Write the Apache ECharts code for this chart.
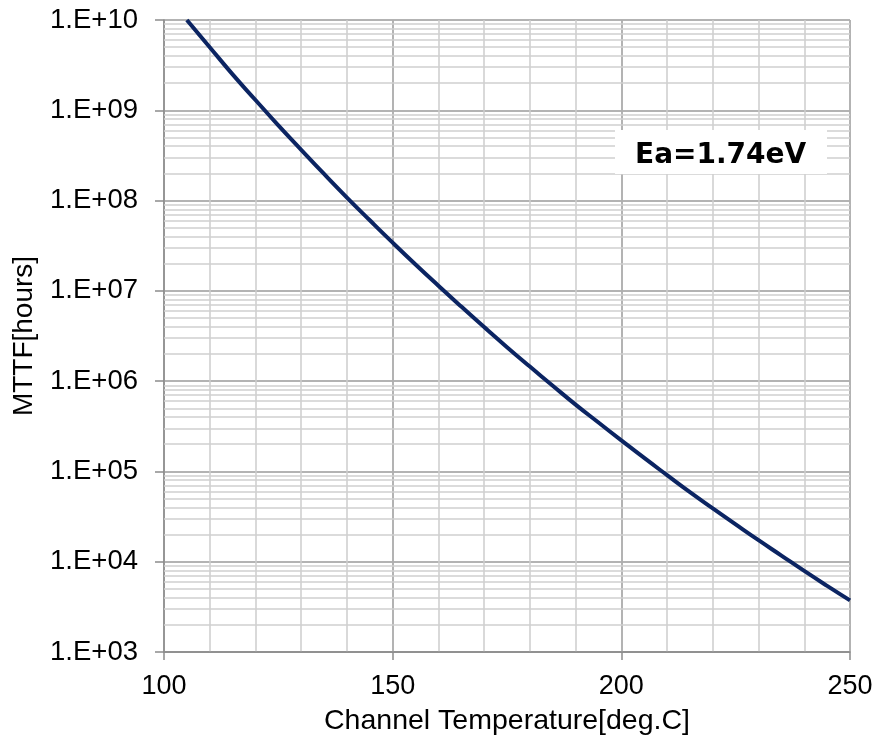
<!DOCTYPE html>
<html>
<head>
<meta charset="utf-8">
<script src="https://cdn.jsdelivr.net/npm/echarts@6/dist/echarts.min.js"></script>
<style>
html,body{margin:0;padding:0;background:#fff;}
#chart{width:877px;height:747px;}
</style>
</head>
<body>
<div id="chart"></div>
<script>
// Channel temperature [deg.C]
var temps = [105,110,115,120,125,130,135,140,145,150,155,160,165,170,175,180,185,190,195,200,205,210,215,220,225,230,235,240,245,250];
// MTTF [hours] (Ea = 1.74 eV)
var mttf = [1.0e10,5.0e9,2.5e9,1.3e9,6.8e8,3.65e8,1.97e8,1.08e8,6.05e7,3.42e7,1.96e7,1.14e7,6.7e6,3.97e6,2.38e6,1.45e6,8.9e5,5.5e5,3.48e5,2.21e5,1.41e5,9.1e4,5.9e4,3.9e4,2.59e4,1.73e4,1.17e4,7.9e3,5.4e3,3.73e3];
var xTickLabels = ['100','150','200','250'];
var yTickLabels = ['1.E+03','1.E+04','1.E+05','1.E+06','1.E+07','1.E+08','1.E+09','1.E+10'];
var annotation = 'Ea=1.74eV';

var minorY = [];
for (var e = 3; e < 10; e++) {
  for (var m = 2; m <= 9; m++) minorY.push({yAxis: m * Math.pow(10, e)});
}

var chart = echarts.init(document.getElementById('chart'));
var font = '"Liberation Sans", Arial, sans-serif';
chart.setOption({
  animation: false,
  backgroundColor: '#ffffff',
  grid: {left: 164, right: 27, top: 20, bottom: 95},
  xAxis: [{
    type: 'value', min: 100, max: 250, interval: 10,
    axisLine: {show: false}, axisTick: {show: false}, axisLabel: {show: false},
    splitLine: {show: true, lineStyle: {color: '#cccccc', width: 1.5}}
  }, {
    type: 'value', min: 100, max: 250, interval: 50, position: 'bottom',
    name: 'Channel Temperature[deg.C]', nameLocation: 'middle', nameGap: 55,
    nameTextStyle: {fontFamily: font, fontSize: 28.5, color: '#000'},
    axisLine: {show: true, lineStyle: {color: '#8c8c8c', width: 1.5}},
    axisTick: {show: true, inside: false, length: 8, lineStyle: {color: '#8c8c8c', width: 1.5}},
    axisLabel: {margin: 21, fontFamily: font, fontSize: 27, color: '#000',
      formatter: function (v) { var i = xTickLabels.indexOf(String(v)); return i >= 0 ? xTickLabels[i] : ''; }},
    splitLine: {show: true, lineStyle: {color: '#a6a6a6', width: 1.5}}
  }],
  yAxis: {
    type: 'log', logBase: 10, min: 1e3, max: 1e10, splitNumber: 7,
    name: 'MTTF[hours]', nameLocation: 'middle', nameGap: 126,
    nameTextStyle: {fontFamily: font, fontSize: 28, color: '#000'},
    axisLine: {show: true, lineStyle: {color: '#8c8c8c', width: 1.5}},
    axisTick: {show: true, inside: false, length: 9, lineStyle: {color: '#8c8c8c', width: 1.5}},
    axisLabel: {margin: 26, fontFamily: font, fontSize: 27.5, color: '#000',
      formatter: function (v) { var ex = Math.round(Math.log10(v)); return yTickLabels[ex - 3] || ''; }},
    splitLine: {show: true, lineStyle: {color: '#9a9a9a', width: 1.5}}
  },
  series: [{
    type: 'line', xAxisIndex: 0, data: [], silent: true, z: 1,
    markLine: {
      silent: true, symbol: ['none', 'none'], label: {show: false},
      lineStyle: {color: '#cfcfcf', width: 1.5, type: 'solid'},
      emphasis: {disabled: true},
      data: minorY
    }
  }, {
    type: 'line', xAxisIndex: 0, z: 5,
    data: temps.map(function (t, i) { return [t, mttf[i]]; }),
    showSymbol: false, smooth: true,
    lineStyle: {color: '#0b2462', width: 4}
  }],
  graphic: [{
    type: 'rect', left: 615, top: 130, z: 10,
    shape: {width: 212, height: 44},
    style: {fill: '#ffffff'}
  }, {
    type: 'text', left: 635, top: 142, z: 11,
    style: {text: annotation, font: 'bold 28px "DejaVu Sans", Verdana, sans-serif', fill: '#000'}
  }]
});
</script>
</body>
</html>
